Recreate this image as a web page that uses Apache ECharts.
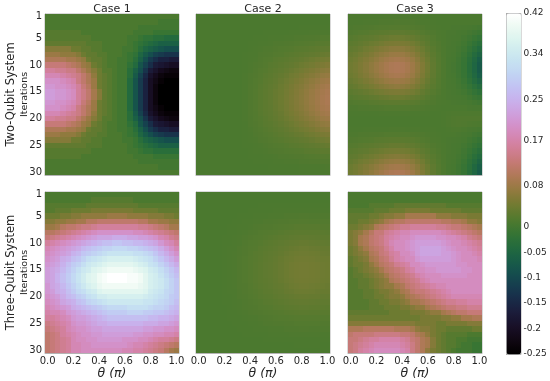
<!DOCTYPE html>
<html><head><meta charset="utf-8">
<style>html,body{margin:0;padding:0;background:#fff}#c{width:550px;height:381px}</style>
<script src="https://cdn.jsdelivr.net/npm/echarts@6/dist/echarts.min.js"></script>
</head><body><div id="c"></div>
<script>
const thetaCategories=["0.00","0.04","0.08","0.12","0.16","0.20","0.24","0.28","0.32","0.36","0.40","0.44","0.48","0.52","0.56","0.60","0.64","0.68","0.72","0.76","0.80","0.84","0.88","0.92","0.96","1.00"];
const iterationCategories=["1","2","3","4","5","6","7","8","9","10","11","12","13","14","15","16","17","18","19","20","21","22","23","24","25","26","27","28","29","30"];
const iterationTicks=["1","5","10","15","20","25","30"];
const thetaTicks=["0.00","0.20","0.40","0.60","0.80","1.00"];
const colorbarTicks=[-0.25,-0.2,-0.15,-0.1,-0.05,0,0.08,0.17,0.25,0.34,0.42];
const caseTitles=["Case 1","Case 2","Case 3"];
const rowTitles=["Two-Qubit System","Three-Qubit System"];
// values in hundredths
const twoCase1=[
[1,1,1,1,1,1,1,1,1,1,1,1,1,1,1,1,1,1,1,1,1,1,1,1,1,1],
[1,1,1,1,1,1,1,1,1,1,1,1,1,1,1,1,1,1,1,1,1,1,0,0,0,0],
[1,1,1,1,1,1,1,1,1,1,1,1,1,1,1,1,1,1,0,0,0,0,0,0,0,0],
[2,2,2,2,2,2,2,1,1,1,1,1,1,1,1,1,1,0,0,0,0,-1,-1,-1,-1,-1],
[2,2,2,2,2,2,2,2,2,1,1,1,1,1,1,1,0,0,-1,-2,-2,-3,-3,-4,-4,-4],
[3,3,3,3,3,3,3,3,2,2,2,1,1,1,1,1,0,-1,-2,-3,-4,-5,-6,-6,-6,-6],
[6,6,6,6,6,4,4,3,3,2,2,1,1,1,1,0,0,-1,-3,-5,-6,-7,-8,-9,-9,-9],
[8,8,8,7,7,7,6,4,3,3,2,2,1,1,1,0,-1,-2,-5,-7,-9,-11,-12,-13,-13,-13],
[10,10,10,10,9,9,8,7,4,3,3,2,1,1,0,0,-1,-3,-6,-9,-12,-14,-16,-16,-17,-17],
[13,13,13,13,12,11,10,8,7,4,3,2,1,1,0,0,-2,-4,-8,-11,-14,-17,-18,-19,-20,-20],
[16,16,15,15,14,14,12,10,8,6,4,2,2,1,0,0,-3,-6,-9,-13,-17,-19,-21,-22,-23,-23],
[18,18,18,17,16,15,14,12,10,7,4,3,2,1,0,0,-3,-7,-11,-15,-19,-21,-23,-24,-24,-24],
[20,20,20,19,18,17,14,12,10,8,4,3,2,1,0,0,-4,-8,-12,-16,-20,-22,-24,-25,-25,-25],
[21,21,20,20,19,18,16,13,11,8,4,3,2,1,0,0,-4,-8,-12,-16,-20,-23,-25,-25,-25,-25],
[22,22,21,21,20,19,16,14,12,9,6,3,2,1,0,0,-4,-8,-12,-16,-20,-23,-25,-25,-25,-25],
[22,22,21,21,20,19,16,14,12,9,6,3,2,1,0,0,-4,-8,-12,-16,-20,-23,-25,-25,-25,-25],
[21,21,20,20,19,18,16,13,11,8,4,3,2,1,0,0,-4,-8,-12,-16,-20,-23,-25,-25,-25,-25],
[20,20,20,19,18,17,14,12,10,8,4,3,2,1,0,0,-4,-8,-12,-16,-20,-22,-24,-25,-25,-25],
[18,18,18,17,16,15,14,12,10,7,4,3,2,1,0,0,-3,-7,-11,-15,-19,-21,-23,-24,-24,-24],
[16,16,15,15,14,14,12,10,8,6,4,2,2,1,0,0,-3,-6,-9,-13,-17,-19,-21,-22,-23,-23],
[13,13,13,13,12,11,10,8,7,4,3,2,1,1,0,0,-2,-4,-8,-11,-14,-17,-18,-19,-20,-20],
[10,10,10,10,9,9,8,7,4,3,3,2,1,1,0,0,-1,-3,-6,-9,-12,-14,-16,-16,-17,-17],
[8,8,8,7,7,7,6,4,3,3,2,2,1,1,1,0,-1,-2,-5,-7,-9,-11,-12,-13,-13,-13],
[6,6,6,6,6,4,4,3,3,2,2,1,1,1,1,0,0,-1,-3,-5,-6,-7,-8,-9,-9,-9],
[3,3,3,3,3,3,3,3,2,2,2,1,1,1,1,1,0,-1,-2,-3,-4,-5,-6,-6,-6,-6],
[2,2,2,2,2,2,2,2,2,1,1,1,1,1,1,1,0,0,-1,-2,-2,-3,-3,-3,-3,-3],
[2,2,2,2,2,2,2,1,1,1,1,1,1,1,1,1,1,0,0,0,0,-1,-1,-1,-1,-1],
[1,1,1,1,1,1,1,1,1,1,1,1,1,1,1,1,1,1,0,0,0,0,0,0,0,0],
[1,1,1,1,1,1,1,1,1,1,1,1,1,1,1,1,1,1,1,1,1,1,0,0,0,0],
[1,1,1,1,1,1,1,1,1,1,1,1,1,1,1,1,1,1,1,1,1,1,1,1,1,1]];
const twoCase2=[
[1,1,1,1,1,1,1,1,1,1,1,1,1,1,1,1,1,1,1,1,1,1,1,1,1,1],
[1,1,1,1,1,1,1,1,1,1,1,1,1,1,1,1,1,1,1,1,1,1,1,1,1,1],
[1,1,1,1,1,1,1,1,1,1,1,1,1,1,1,1,1,1,1,1,1.1,1.1,1.1,1.1,1.1,1.1],
[1,1,1,1,1,1,1,1,1,1,1,1,1,1.1,1.1,1.1,1.1,1.1,1.2,1.2,1.2,1.2,1.3,1.3,1.3,1.3],
[1,1,1,1,1,1,1,1,1,1,1,1.1,1.1,1.1,1.2,1.2,1.2,1.3,1.3,1.4,1.4,1.5,1.5,1.6,1.7,1.7],
[1,1,1,1,1,1,1,1,1,1,1.1,1.1,1.2,1.2,1.3,1.4,1.4,1.5,1.6,1.7,1.8,1.9,2,2.1,2.1,2.2],
[1,1,1,1,1,1,1,1,1,1,1.1,1.2,1.3,1.4,1.4,1.6,1.7,1.8,1.9,2.1,2.2,2.3,2.5,2.7,2.8,2.9],
[1,1,1,1,1,1,1,1,1,1.1,1.2,1.2,1.4,1.5,1.6,1.8,1.9,2.1,2.3,2.5,2.7,2.9,3.1,3.3,3.5,3.7],
[1,1,1,1,1,1,1,1,1,1.1,1.2,1.3,1.5,1.7,1.8,2.1,2.3,2.5,2.8,3,3.3,3.6,3.9,4.2,4.4,4.6],
[1,1,1,1,1,1,1,1,1,1.1,1.3,1.4,1.6,1.8,2.1,2.3,2.6,2.9,3.2,3.5,3.9,4.2,4.6,5,5.3,5.6],
[1,1,1,1,1,1,1,1,1,1.1,1.3,1.5,1.8,2,2.3,2.6,2.9,3.3,3.7,4.1,4.5,4.9,5.4,5.8,6.2,6.5],
[1,1,1,1,1,1,1,1,1,1.2,1.4,1.6,1.9,2.2,2.5,2.9,3.3,3.7,4.2,4.6,5.1,5.6,6.1,6.6,7.2,7.5],
[1,1,1,1,1,1,1,1,1,1.2,1.4,1.7,2,2.4,2.7,3.1,3.6,4.1,4.6,5.1,5.6,6.2,6.8,7.4,8,8.3],
[1,1,1,1,1,1,1,1,1,1.2,1.5,1.7,2.1,2.5,2.9,3.3,3.8,4.3,4.9,5.5,6,6.7,7.3,8,8.6,9],
[1,1,1,1,1,1,1,1,1,1.2,1.5,1.8,2.2,2.6,3,3.5,3.9,4.5,5.1,5.7,6.3,7,7.7,8.4,9,9.4],
[1,1,1,1,1,1,1,1,1,1.2,1.5,1.8,2.2,2.6,3,3.5,4,4.6,5.2,5.8,6.4,7.1,7.8,8.5,9.2,9.6],
[1,1,1,1,1,1,1,1,1,1.2,1.5,1.8,2.2,2.6,3,3.5,4,4.6,5.2,5.8,6.4,7.1,7.8,8.5,9.2,9.6],
[1,1,1,1,1,1,1,1,1,1.2,1.5,1.8,2.2,2.6,2.9,3.4,3.9,4.5,5.1,5.7,6.2,6.9,7.6,8.3,9,9.3],
[1,1,1,1,1,1,1,1,1,1.2,1.5,1.7,2.1,2.5,2.8,3.3,3.7,4.3,4.8,5.4,5.9,6.5,7.2,7.8,8.5,8.8],
[1,1,1,1,1,1,1,1,1,1.2,1.4,1.7,2,2.3,2.7,3.1,3.5,4,4.5,5,5.5,6.1,6.6,7.2,7.8,8.1],
[1,1,1,1,1,1,1,1,1,1.1,1.4,1.6,1.9,2.2,2.4,2.8,3.2,3.6,4,4.5,4.9,5.4,5.9,6.4,6.9,7.2],
[1,1,1,1,1,1,1,1,1,1.1,1.3,1.5,1.7,2,2.2,2.5,2.8,3.2,3.6,3.9,4.3,4.7,5.1,5.6,6,6.2],
[1,1,1,1,1,1,1,1,1,1.1,1.2,1.4,1.6,1.8,2,2.2,2.5,2.8,3.1,3.4,3.6,4,4.3,4.7,5,5.2],
[1,1,1,1,1,1,1,1,1,1.1,1.2,1.3,1.5,1.6,1.8,2,2.1,2.4,2.6,2.8,3.1,3.3,3.6,3.9,4.1,4.3],
[1,1,1,1,1,1,1,1,1,1.1,1.1,1.2,1.3,1.4,1.6,1.7,1.8,2,2.2,2.3,2.5,2.7,2.9,3.1,3.3,3.4],
[1,1,1,1,1,1,1,1,1,1,1.1,1.2,1.2,1.3,1.4,1.5,1.6,1.7,1.8,1.9,2,2.2,2.3,2.4,2.6,2.6],
[1,1,1,1,1,1,1,1,1,1,1.1,1.1,1.1,1.2,1.2,1.3,1.4,1.4,1.5,1.6,1.6,1.7,1.8,1.9,2,2],
[1,1,1,1,1,1,1,1,1,1,1,1.1,1.1,1.1,1.1,1.2,1.2,1.3,1.3,1.3,1.4,1.4,1.5,1.5,1.6,1.6],
[1,1,1,1,1,1,1,1,1,1,1,1,1,1,1.1,1.1,1.1,1.1,1.1,1.1,1.2,1.2,1.2,1.2,1.2,1.3],
[1,1,1,1,1,1,1,1,1,1,1,1,1,1,1,1,1,1,1,1,1.1,1.1,1.1,1.1,1.1,1.1]];
const twoCase3=[
[1.1,1.1,1.1,1.1,1.1,1.1,1.1,1.2,1.2,1.2,1.2,1.2,1.1,1.1,1.1,1,1,1,1,1,1,1,1,1,1,1],
[1.2,1.2,1.2,1.3,1.3,1.3,1.4,1.4,1.4,1.5,1.4,1.4,1.4,1.3,1.2,1.2,1.1,1,1,1,1,1,1,1,1,1],
[1.3,1.4,1.4,1.5,1.6,1.7,1.8,1.8,1.9,1.9,1.9,1.8,1.7,1.6,1.5,1.3,1.2,1.1,1,1,0.9,0.9,0.8,0.6,0.4,0.2],
[1.6,1.7,1.9,2,2.2,2.3,2.5,2.6,2.8,2.8,2.8,2.6,2.5,2.2,1.9,1.6,1.4,1.2,1.1,0.9,0.9,0.7,0.5,0.2,-0.2,-0.6],
[2,2.2,2.5,2.7,2.9,3.2,3.5,3.7,3.9,4,3.9,3.7,3.4,3,2.5,2.1,1.7,1.3,1.1,0.9,0.8,0.6,0.2,-0.3,-1,-1.6],
[2.5,2.7,3.1,3.4,3.8,4.1,4.5,4.9,5.1,5.2,5.1,4.9,4.4,3.8,3.2,2.5,1.9,1.5,1.1,0.9,0.7,0.4,-0.1,-0.9,-1.8,-2.8],
[3,3.3,3.7,4.2,4.7,5.2,5.7,6.1,6.5,6.6,6.5,6.1,5.5,4.7,3.9,3,2.2,1.6,1.2,0.8,0.6,0.2,-0.4,-1.5,-2.7,-4],
[3.5,3.8,4.4,4.9,5.5,6.2,6.8,7.3,7.8,7.9,7.8,7.3,6.6,5.6,4.5,3.5,2.5,1.8,1.2,0.8,0.5,0,-0.8,-2.1,-3.7,-5.2],
[3.9,4.3,5,5.6,6.3,7,7.8,8.4,8.9,9.1,8.9,8.4,7.6,6.4,5.1,3.9,2.8,1.9,1.3,0.7,0.4,-0.2,-1.1,-2.7,-4.5,-6.4],
[4.2,4.7,5.4,6.1,6.9,7.7,8.5,9.2,9.8,10,9.8,9.2,8.3,7,5.6,4.2,3,2,1.3,0.7,0.3,-0.3,-1.3,-3,-5,-7],
[4.2,4.7,5.4,6.1,6.9,7.7,8.5,9.2,9.8,10,9.8,9.2,8.3,7,5.6,4.2,3,2,1.3,0.7,0.3,-0.3,-1.3,-3,-5,-7],
[4,4.4,5.1,5.7,6.5,7.2,8,8.6,9.2,9.4,9.2,8.6,7.8,6.6,5.3,4,2.9,1.9,1.3,0.7,0.4,-0.2,-1.1,-2.7,-4.5,-6.4],
[3.6,4,4.5,5.1,5.7,6.4,7,7.6,8,8.2,8,7.6,6.8,5.8,4.7,3.6,2.6,1.8,1.2,0.8,0.5,0,-0.8,-2.1,-3.7,-5.2],
[3.1,3.4,3.9,4.3,4.8,5.4,5.9,6.3,6.7,6.9,6.7,6.3,5.7,4.9,4,3.1,2.3,1.7,1.2,0.8,0.6,0.2,-0.4,-1.4,-2.6,-3.8],
[2.5,2.8,3.1,3.4,3.8,4.2,4.6,4.9,5.2,5.3,5.2,4.9,4.5,3.9,3.2,2.5,2,1.5,1.1,0.9,0.7,0.4,0,-0.7,-1.6,-2.4],
[2,2.2,2.4,2.6,2.9,3.1,3.4,3.6,3.8,3.9,3.8,3.6,3.3,2.9,2.5,2,1.6,1.3,1.1,0.9,0.8,0.6,0.4,-0.1,-0.7,-1.2],
[1.6,1.7,1.8,1.9,2.1,2.2,2.4,2.5,2.6,2.6,2.6,2.5,2.3,2.1,1.8,1.6,1.4,1.2,1.1,1,0.9,0.8,0.7,0.4,0.1,-0.2],
[1.3,1.3,1.4,1.4,1.5,1.5,1.6,1.7,1.7,1.7,1.7,1.7,1.6,1.5,1.4,1.3,1.2,1.1,1,1,1,1,1,0.8,0.7,0.6],
[1.1,1.1,1.1,1.1,1.1,1.1,1.2,1.2,1.2,1.2,1.2,1.2,1.1,1.1,1.1,1.1,1,1,1.1,1.2,1.3,1.3,1.3,1.3,1.3,1.3],
[1,1,1,1,1,1,1,1,1,1,1,1,1,1,1,1,1,1,1.1,1.3,1.4,1.5,1.5,1.5,1.5,1.5],
[1,1,1,1,1,1,1,1,1,1,1,1,1,1,1,1,1,1,1.1,1.3,1.4,1.5,1.4,1.3,1.2,1.1],
[1.1,1.1,1.1,1.2,1.2,1.2,1.2,1.2,1.3,1.3,1.3,1.2,1.2,1.2,1.1,1.1,1.1,1,1,1.1,1.2,1.2,1,0.8,0.6,0.4],
[1.3,1.3,1.4,1.4,1.5,1.5,1.6,1.7,1.7,1.7,1.7,1.7,1.6,1.5,1.4,1.3,1.2,1.1,1,1,1,0.9,0.7,0.4,0,-0.3],
[1.5,1.6,1.7,1.8,1.9,2.1,2.2,2.3,2.4,2.4,2.4,2.3,2.2,2,1.7,1.5,1.3,1.2,1,0.9,0.8,0.6,0.4,-0.1,-0.6,-1.2],
[1.9,2,2.2,2.4,2.6,2.8,3,3.2,3.4,3.4,3.4,3.2,3,2.6,2.2,1.9,1.5,1.3,1.1,0.9,0.7,0.5,0.1,-0.5,-1.3,-2],
[2.3,2.5,2.8,3,3.4,3.7,4,4.3,4.5,4.6,4.5,4.3,3.9,3.4,2.8,2.3,1.8,1.4,1.1,0.9,0.6,0.4,-0.2,-1,-2,-3],
[2.8,3,3.4,3.8,4.2,4.7,5.1,5.5,5.8,6,5.8,5.5,5,4.3,3.5,2.8,2.1,1.6,1.2,0.8,0.6,0.2,-0.4,-1.5,-2.8,-4],
[3.3,3.7,4.2,4.7,5.2,5.8,6.4,6.9,7.3,7.5,7.3,6.9,6.3,5.3,4.3,3.3,2.4,1.7,1.2,0.8,0.5,0,-0.8,-2.1,-3.6,-5.2],
[3.8,4.3,4.9,5.5,6.2,6.9,7.6,8.2,8.7,8.9,8.7,8.2,7.4,6.3,5,3.8,2.8,1.9,1.3,0.7,0.4,-0.2,-1.1,-2.6,-4.4,-6.2],
[4.2,4.7,5.4,6.1,6.9,7.7,8.5,9.2,9.8,10,9.8,9.2,8.3,7,5.6,4.2,3,2,1.3,0.7,0.3,-0.3,-1.3,-3,-5,-7]];
const threeCase1=[
[1,1,1,1,1,1,1,1,1,1,1,1,1,1,1,1,1,1,1,1,1,1,1,1,1,1],
[1,1,1,1,1,1,1,1,1,2,2,2,2,2,2,2,2,1,1,1,1,1,1,1,1,1],
[2,2,2,2,2,2,2,2,3,3,3,3,3,3,3,3,3,3,2,2,2,2,2,2,2,2],
[2,2,3,3,3,4,4,4,4,5,5,5,5,5,5,5,5,4,4,4,4,4,3,3,3,3],
[4,4,4,5,5,6,6,7,7,7,7,7,8,8,8,8,7,7,7,7,6,6,6,5,5,4],
[6,6,7,7,8,8,9,9,11,11,12,12,12,12,12,12,12,12,11,11,9,9,8,8,7,7],
[8,8,9,11,12,12,13,14,14,15,16,16,16,16,16,16,16,16,15,15,14,13,12,11,9,9],
[11,11,12,13,14,15,16,17,18,19,20,20,20,20,20,20,20,19,19,18,17,16,15,14,13,12],
[13,14,15,16,17,18,19,20,21,22,23,23,23,24,24,24,23,23,22,22,21,20,18,17,15,14],
[16,17,18,19,20,21,22,23,24,25,26,27,27,28,28,27,27,26,26,25,24,23,21,19,18,16],
[18,19,20,21,22,23,24,26,27,28,29,30,30,31,31,31,30,30,29,28,27,26,24,22,20,18],
[19,20,21,22,23,25,26,28,29,30,31,32,33,33,33,33,33,32,32,31,30,28,26,24,22,20],
[20,21,22,24,25,27,28,30,32,33,34,35,36,36,36,36,36,35,34,33,32,30,28,26,24,22],
[21,22,23,25,27,29,30,32,34,35,36,37,38,38,38,38,38,37,36,35,33,32,30,28,26,24],
[22,23,24,26,28,30,32,34,35,37,38,39,40,40,40,40,40,39,38,37,35,34,32,30,28,26],
[22,23,25,27,29,31,33,35,37,38,40,41,42,42,42,42,41,41,40,38,36,35,33,31,29,27],
[22,23,25,27,29,31,33,35,37,38,40,41,42,42,42,42,41,41,40,38,36,35,34,32,30,28],
[21,23,24,26,28,30,32,34,36,37,39,40,40,40,40,40,40,40,39,38,36,35,34,32,30,28],
[21,22,24,25,27,29,31,32,34,35,37,38,38,38,38,38,38,38,38,37,35,34,33,31,30,28],
[20,21,22,24,26,27,29,30,32,33,35,35,36,36,36,36,36,36,36,35,34,33,32,31,29,28],
[19,20,21,23,24,25,27,28,30,31,32,33,34,34,34,34,34,34,34,33,33,32,31,30,29,27],
[18,19,20,21,22,24,25,26,27,28,29,30,31,31,31,31,32,32,32,32,31,30,30,29,27,26],
[17,18,18,19,21,22,23,24,25,26,27,28,29,29,29,29,30,30,30,29,29,28,28,27,26,25],
[16,16,17,18,19,21,22,22,23,24,25,26,27,27,27,27,27,27,27,27,26,26,25,25,24,23],
[14,15,16,17,18,20,21,21,22,23,24,24,25,25,25,25,25,25,25,24,24,24,23,23,22,21],
[13,14,15,16,18,19,20,20,21,22,22,23,23,23,23,23,23,23,23,22,22,21,21,20,20,19],
[12,13,14,16,17,18,19,20,20,21,21,22,22,22,22,22,22,21,21,20,20,19,19,18,18,17],
[12,13,14,15,16,18,19,19,20,20,21,21,21,21,21,20,20,20,19,19,18,17,16,16,15,14],
[12,13,14,15,16,18,18,19,19,20,20,20,20,20,20,20,19,18,18,17,16,15,14,13,12,11],
[12,13,14,15,16,18,18,19,19,19,19,19,19,19,19,18,18,17,17,16,15,14,13,11,9,8]];
const threeCase2=[
[1,1,1,1,1,1,1,1,1,1,1,1,1,1,1,1,1,1,1,1,1,1,1,1,1,1],
[1,1,1,1,1,1,1,1,1,1,1,1,1,1,1,1,1,1,1,1,1,1,1,1,1,1],
[1,1,1,1,1,1,1,1,1,1,1,1,1.1,1.1,1.1,1.1,1.1,1.1,1.1,1.1,1.1,1.1,1.1,1.1,1.1,1.1],
[1,1,1,1,1,1,1,1,1,1,1.1,1.1,1.1,1.1,1.1,1.2,1.2,1.2,1.2,1.2,1.2,1.2,1.2,1.2,1.2,1.2],
[1,1,1,1,1,1,1,1,1.1,1.1,1.1,1.2,1.2,1.2,1.3,1.3,1.3,1.4,1.4,1.4,1.5,1.5,1.4,1.4,1.4,1.4],
[1,1,1,1,1,1,1,1.1,1.1,1.2,1.2,1.3,1.3,1.4,1.4,1.5,1.6,1.6,1.7,1.7,1.8,1.8,1.7,1.7,1.7,1.7],
[1,1,1,1,1,1,1.1,1.1,1.2,1.2,1.3,1.4,1.5,1.6,1.6,1.7,1.8,1.9,2,2.1,2.1,2.1,2.1,2.1,2,2],
[1,1,1,1,1,1,1.1,1.1,1.2,1.3,1.4,1.5,1.7,1.8,1.9,2,2.1,2.3,2.4,2.5,2.5,2.5,2.5,2.5,2.4,2.3],
[1,1,1,1,1,1.1,1.1,1.2,1.3,1.4,1.6,1.7,1.8,2,2.1,2.3,2.5,2.6,2.8,2.9,3,3,2.9,2.8,2.7,2.7],
[1,1,1,1,1,1.1,1.1,1.2,1.3,1.5,1.7,1.8,2,2.2,2.4,2.6,2.8,3,3.2,3.3,3.4,3.4,3.3,3.2,3.1,3],
[1,1,1,1,1,1.1,1.2,1.2,1.4,1.6,1.8,1.9,2.2,2.4,2.6,2.8,3.1,3.3,3.5,3.7,3.8,3.8,3.7,3.6,3.4,3.4],
[1,1,1,1,1,1.1,1.2,1.3,1.4,1.6,1.9,2.1,2.3,2.6,2.8,3,3.3,3.6,3.8,4,4.1,4.1,4,3.9,3.7,3.6],
[1,1,1,1,1,1.1,1.2,1.3,1.5,1.7,2,2.1,2.4,2.7,2.9,3.2,3.5,3.8,4,4.2,4.3,4.3,4.2,4.1,3.9,3.9],
[1,1,1,1,1,1.1,1.2,1.3,1.5,1.7,2,2.2,2.5,2.8,3,3.3,3.6,3.9,4.2,4.4,4.5,4.5,4.4,4.3,4.1,4],
[1,1,1,1,1,1.1,1.2,1.3,1.5,1.7,2,2.2,2.5,2.8,3,3.3,3.6,3.9,4.2,4.4,4.5,4.5,4.4,4.3,4.1,4],
[1,1,1,1,1,1.1,1.2,1.3,1.5,1.7,2,2.2,2.5,2.8,3,3.3,3.6,3.9,4.2,4.4,4.5,4.5,4.4,4.3,4.1,4],
[1,1,1,1,1,1.1,1.2,1.3,1.5,1.7,2,2.2,2.5,2.7,2.9,3.2,3.5,3.8,4.1,4.3,4.4,4.4,4.3,4.2,4,3.9],
[1,1,1,1,1,1.1,1.2,1.3,1.5,1.6,1.9,2.1,2.4,2.6,2.8,3.1,3.3,3.6,3.9,4.1,4.2,4.2,4.1,4,3.8,3.7],
[1,1,1,1,1,1.1,1.2,1.2,1.4,1.6,1.8,2,2.2,2.5,2.6,2.9,3.1,3.4,3.6,3.8,3.9,3.9,3.8,3.7,3.5,3.5],
[1,1,1,1,1,1.1,1.1,1.2,1.4,1.5,1.7,1.9,2.1,2.3,2.4,2.7,2.9,3.1,3.3,3.4,3.5,3.5,3.4,3.4,3.2,3.2],
[1,1,1,1,1,1.1,1.1,1.2,1.3,1.4,1.6,1.7,1.9,2.1,2.2,2.4,2.6,2.8,3,3.1,3.2,3.2,3.1,3,2.9,2.9],
[1,1,1,1,1,1,1.1,1.2,1.3,1.4,1.5,1.6,1.8,1.9,2,2.2,2.3,2.5,2.6,2.7,2.8,2.8,2.7,2.7,2.6,2.5],
[1,1,1,1,1,1,1.1,1.1,1.2,1.3,1.4,1.5,1.6,1.7,1.8,1.9,2,2.1,2.2,2.3,2.4,2.4,2.3,2.3,2.2,2.2],
[1,1,1,1,1,1,1.1,1.1,1.1,1.2,1.3,1.3,1.4,1.5,1.6,1.7,1.8,1.8,1.9,2,2,2,2,2,1.9,1.9],
[1,1,1,1,1,1,1,1.1,1.1,1.1,1.2,1.2,1.3,1.4,1.4,1.5,1.5,1.6,1.6,1.7,1.7,1.7,1.7,1.7,1.6,1.6],
[1,1,1,1,1,1,1,1,1.1,1.1,1.1,1.2,1.2,1.2,1.3,1.3,1.3,1.4,1.4,1.4,1.5,1.5,1.4,1.4,1.4,1.4],
[1,1,1,1,1,1,1,1,1,1.1,1.1,1.1,1.1,1.1,1.2,1.2,1.2,1.2,1.3,1.3,1.3,1.3,1.3,1.3,1.2,1.2],
[1,1,1,1,1,1,1,1,1,1,1,1,1,1.1,1.1,1.1,1.1,1.1,1.1,1.1,1.1,1.1,1.1,1.1,1.1,1.1],
[1,1,1,1,1,1,1,1,1,1,1,1,1,1,1,1,1,1,1,1.1,1.1,1.1,1.1,1.1,1,1],
[1,1,1,1,1,1,1,1,1,1,1,1,1,1,1,1,1,1,1,1,1,1,1,1,1,1]];
const threeCase3=[
[1,1,1,1,1,1,1,1,1,1,1,1,1,1,1,1,1,1,1,1,1,1,1,1,1,1],
[1,1,1,1,1,1,1,1,1,1,1,1,1,1,1,1,1,1,1,1,1,1,1,1,1,1],
[1,1,1,1,2,2,2,2,2,3,3,3,3,3,3,3,3,3,3,2,2,2,2,2,2,2],
[2,2,2,2,2,3,3,3,4,4,4,5,5,5,5,5,4,4,4,4,4,4,3,3,3,3],
[3,3,3,3,4,4,5,6,6,7,7,9,9,9,9,9,9,7,7,7,6,6,6,5,5,5],
[3,3,4,4,5,6,7,9,10,11,11,12,12,12,12,12,12,12,11,11,10,10,9,7,7,6],
[4,4,5,6,7,10,11,12,13,14,15,15,16,16,16,16,16,15,15,14,13,13,12,11,10,9],
[5,6,7,9,11,13,13,15,16,17,18,18,19,19,19,19,19,19,18,17,16,15,14,13,12,11],
[5,6,9,10,12,13,14,16,17,18,19,19,20,21,21,21,21,20,20,19,19,18,17,15,14,13],
[5,6,9,10,12,13,14,16,18,19,19,20,21,22,22,22,22,22,21,20,19,19,18,17,16,15],
[4,5,7,9,11,12,13,15,17,19,19,20,21,22,23,23,23,23,22,21,20,19,19,18,17,16],
[4,5,6,7,10,11,13,14,16,17,19,19,20,22,23,23,23,23,22,22,21,20,19,19,18,17],
[3,4,5,6,9,10,12,13,15,17,18,19,19,21,22,22,22,22,22,22,21,20,19,19,19,18],
[3,4,4,5,7,9,11,12,13,15,16,17,19,19,20,21,21,21,21,21,21,20,20,19,19,19],
[2,3,4,5,6,7,9,11,12,13,14,16,17,19,19,20,20,21,21,21,21,21,20,20,19,19],
[2,3,3,4,5,6,7,9,11,12,13,14,15,17,18,19,19,19,20,20,20,20,20,19,19,19],
[2,2,3,3,4,5,6,7,10,11,12,13,14,15,17,18,19,19,19,19,19,19,19,19,19,19],
[2,2,3,3,4,5,6,7,7,9,10,12,13,14,15,16,17,18,18,19,19,19,19,19,19,19],
[2,2,2,3,3,4,5,5,6,7,9,10,12,13,13,14,15,16,17,18,19,19,19,19,19,19],
[2,2,2,3,3,4,4,5,6,6,7,9,10,11,12,13,14,15,16,17,18,18,18,18,18,18],
[2,2,2,2,3,3,4,4,5,5,6,7,9,9,10,11,12,13,14,15,15,16,16,17,17,17],
[2,2,2,2,3,3,3,4,4,4,5,5,6,7,7,9,10,11,12,13,13,14,14,15,15,15],
[3,3,3,3,3,3,3,3,4,4,4,4,5,5,5,6,7,7,9,10,11,12,12,13,13,13],
[4,4,4,4,4,4,4,4,4,4,4,4,4,4,5,5,5,5,6,6,7,7,9,9,10,10],
[6,6,6,6,6,6,6,6,6,6,6,6,6,5,5,5,5,4,4,5,5,5,5,6,6,6],
[10,10,10,11,11,11,11,11,11,10,10,10,9,7,6,6,5,4,4,3,3,3,3,3,4,4],
[12,13,13,13,13,14,14,14,14,14,13,13,12,10,9,7,5,4,3,2,2,2,2,1,1,1],
[13,13,14,15,16,16,17,17,17,17,16,15,13,12,10,9,6,4,3,2,2,1,1,0,0,0],
[13,14,15,16,17,18,18,18,18,18,17,16,14,12,10,9,6,4,3,2,2,1,0,0,-1,-1],
[13,14,16,17,18,19,19,19,19,19,18,17,14,12,10,7,5,4,3,2,1,0,0,0,-1,-1]];

const panels=[twoCase1,twoCase2,twoCase3,threeCase1,threeCase2,threeCase3];
const lefts=[45,196,348], tops=[14,192], W=134, H=161, VMIN=-0.25, VMAX=0.42;
const INK='#262626', EDGE='#b4b4b4', FONT='DejaVu Sans';

function cubehelix(x){
  const a=x*(1-x)/2, phi=2*Math.PI*(0.5/3+1-1.5*x), c=Math.cos(phi), s=Math.sin(phi);
  const ch=v=>Math.round(255*Math.min(1,Math.max(0,v)));
  return `rgb(${ch(x+a*(-0.14861*c+1.78277*s))},${ch(x+a*(-0.29227*c-0.90649*s))},${ch(x+a*1.97294*c)})`;
}
const palette=[];for(let i=0;i<=64;i++)palette.push(cubehelix(i/64));
// pixel-snapped cell through the axis scales
function renderCell(params,api){
  const p=api.coord([api.value(0),api.value(1)]), s=api.size([1,1]);
  const w=Math.abs(s[0]), h=Math.abs(s[1]);
  const x0=Math.round(p[0]-w/2), x1=Math.round(p[0]+w/2), y0=Math.round(p[1]-h/2), y1=Math.round(p[1]+h/2);
  return {type:'rect',shape:{x:x0,y:y0,width:x1-x0,height:y1-y0},style:{fill:api.visual('color')},silent:true};
}

const grid=[],xAxis=[],yAxis=[],series=[],title=[];
panels.forEach((rows,i)=>{
  const col=i%3,row=Math.floor(i/3);
  grid.push({left:lefts[col],top:tops[row],width:W,height:H,show:true,borderColor:EDGE,borderWidth:1,containLabel:false});
  xAxis.push({type:'category',gridIndex:i,data:thetaCategories,position:'bottom',
    axisTick:{show:false},axisLine:{show:true,lineStyle:{color:EDGE,width:1}},splitLine:{show:false},
    axisLabel:{show:row===1,color:INK,fontSize:10,fontFamily:FONT,margin:3,showMinLabel:true,showMaxLabel:true,
      interval:(idx,v)=>thetaTicks.includes(v),formatter:v=>Number(v).toFixed(1)},
    name:row===1?'θ (π)':'',nameLocation:'middle',nameGap:14,nameMoveOverlap:false,
    nameTextStyle:{color:INK,fontSize:12.5,fontFamily:FONT,fontStyle:'italic'}});
  yAxis.push({type:'category',gridIndex:i,data:iterationCategories,inverse:true,
    axisTick:{show:false},axisLine:{show:true,lineStyle:{color:EDGE,width:1}},splitLine:{show:false},
    axisLabel:{show:col===0,color:INK,fontSize:10,fontFamily:FONT,margin:3,interval:(idx,v)=>iterationTicks.includes(v)},
    name:col===0?'Iterations':'',nameLocation:'middle',nameGap:15,nameRotate:90,nameMoveOverlap:false,
    nameTextStyle:{color:INK,fontSize:9.5,fontFamily:FONT}});
  series.push({type:'custom',xAxisIndex:i,yAxisIndex:i,animation:false,renderItem:renderCell,progressive:0,
    encode:{x:0,y:1},silent:true,data:rows.flatMap((vals,r)=>vals.map((v,c)=>[c,r,v/100]))});
});
caseTitles.forEach((t,i)=>title.push({text:t,left:lefts[i]+W/2,top:4,textAlign:'center',padding:0,
  textStyle:{color:INK,fontSize:11,fontWeight:'normal',fontFamily:FONT}}));

grid.push({left:506,top:13,width:14.5,height:341,show:false});
xAxis.push({type:'value',gridIndex:6,show:false});
yAxis.push({type:'value',gridIndex:6,position:'right',min:VMIN,max:VMAX,
  axisLine:{show:false},splitLine:{show:false},
  axisTick:{show:true,length:2.5,lineStyle:{color:'#888'},customValues:colorbarTicks},
  axisLabel:{show:true,color:INK,fontSize:9,fontFamily:FONT,margin:3,customValues:colorbarTicks,hideOverlap:false,formatter:v=>String(v)}});

const chart=echarts.init(document.getElementById('c'),null,{renderer:'canvas'});
chart.setOption({animation:false,backgroundColor:'#fff',title,grid,xAxis,yAxis,series,
  tooltip:{show:false},
  visualMap:{type:'continuous',min:VMIN,max:VMAX,dimension:2,seriesIndex:[0,1,2,3,4,5],left:506,top:13,itemWidth:14.5,itemHeight:341,
    padding:0,calculable:false,realtime:false,showLabel:false,text:['',''],textGap:0,inRange:{color:palette},borderColor:EDGE,borderWidth:1},
  graphic:[
    {type:'text',x:11,y:tops[0]+H/2,rotation:Math.PI/2,style:{text:rowTitles[0],fontSize:11.5,fontFamily:FONT,fill:INK,align:'center',verticalAlign:'middle'}},
    {type:'text',x:11,y:tops[1]+H/2,rotation:Math.PI/2,style:{text:rowTitles[1],fontSize:11.5,fontFamily:FONT,fill:INK,align:'center',verticalAlign:'middle'}}
  ]});
</script></body></html>
